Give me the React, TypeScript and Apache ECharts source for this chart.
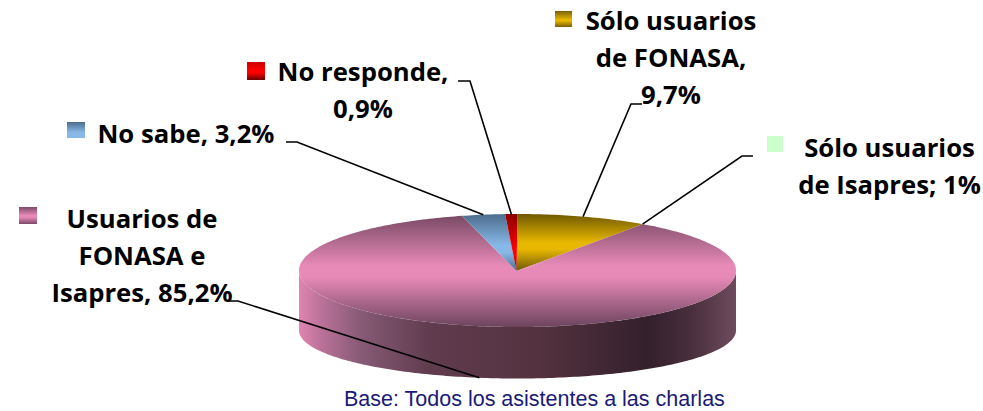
import React, { useEffect, useRef } from "react";
import * as echarts from "echarts";

const sliceNames = ["Sólo usuarios de FONASA", "Sólo usuarios de Isapres", "Usuarios de FONASA e Isapres", "No sabe", "No responde"];
const sliceValues = [9.7, 1, 85.2, 3.2, 0.9];
const labelTexts = [
  "Sólo usuarios\nde FONASA,\n9,7%",
  "Sólo usuarios\nde Isapres; 1%",
  "Usuarios de\nFONASA e\nIsapres, 85,2%",
  "No sabe, 3,2%",
  "No responde,\n0,9%",
];
const footnote = "Base: Todos los asistentes a las charlas";

// Pie geometry
const CX = 517.5, CY = 270.5, RX = 218.5, RY = 56.5;
const BOTTOM_CY = 330.5, BOTTOM_RY = 48;
const rad = (d: number) => (d * Math.PI) / 180;
const topPt = (a: number): number[] => [CX + RX * Math.sin(rad(a)), CY - RY * Math.cos(rad(a))];
const botPt = (a: number): number[] => [CX + RX * Math.sin(rad(a)), BOTTOM_CY - BOTTOM_RY * Math.cos(rad(a))];

const ranges: number[][] = [];
{
  let acc = 0;
  for (const v of sliceValues) {
    ranges.push([acc * 3.6, (acc + v) * 3.6]);
    acc += v;
  }
}

const v3 = (a: string, b: string, c: string, stops?: number[]) => ({
  type: "linear", x: 0, y: 0, x2: 0, y2: 1,
  colorStops: [
    { offset: 0, color: a },
    { offset: stops ? stops[0] : 0.5, color: b },
    { offset: stops ? stops[1] : 0.5, color: b },
    { offset: 1, color: c },
  ],
});
const glob = (g: any, y0: number, y1: number) => ({ ...g, global: true, x: 0, x2: 0, y: y0, y2: y1 });

const pinkFace = v3("#764862", "#e88ab8", "#6c445e", [0.46, 0.56]);
const goldFace = v3("#6f5800", "#e8b800", "#6f5800", [0.5, 0.62]);
const blueFace = v3("#4c6c8c", "#88b8e8", "#4c6c8c", [0.55, 0.68]);
const redFace = v3("#8a0000", "#ff0000", "#8a0000", [0.6, 0.7]);

// The Isapres slice is painted like its neighbour in the reference: no green wedge shows there.
const faceFills = [
  glob(goldFace, 214, 271),
  glob(pinkFace, 214, 327),
  glob(pinkFace, 214, 327),
  glob(blueFace, 214, 271),
  glob(redFace, 214, 271),
];
const sideFill = {
  type: "linear", x: 299, y: 0, x2: 736, y2: 0, global: true,
  colorStops: [
    { offset: 0, color: "#e085b2" },
    { offset: 0.05, color: "#bb729a" },
    { offset: 0.14, color: "#875a76" },
    { offset: 0.3, color: "#603c4e" },
    { offset: 0.55, color: "#54323f" },
    { offset: 0.8, color: "#33202c" },
    { offset: 0.9, color: "#4a2f3d" },
    { offset: 1, color: "#6e4c5e" },
  ],
};
const keyFills: any[] = [
  v3("#7a6000", "#e8b800", "#7a6000", [0.55, 0.6]),
  "#ccffcc",
  v3("#7c4a66", "#e88ab8", "#7c4a66", [0.5, 0.6]),
  v3("#4c6c8c", "#88b8e8", "#88b8e8", [0.65, 0.8]),
  v3("#c80000", "#ff0000", "#6a0000", [0.45, 0.6]),
];

// Annotation layout, in the same order as the slices
const labelCenters = [[671, 57.5], [889.5, 165.5], [142, 255.5], [186, 133], [363, 90]];
const keyBoxes = [[555, 11, 17, 16], [767, 136, 16, 16], [19, 207, 18, 17], [67, 122, 18, 16], [247, 62, 18, 18]];
const leaderStarts = [[642, 104, 631, 104], [753, 156, 742, 156], [227, 301, 238, 301], [286, 142, 297, 142], [458, 81, 470, 81]];
const leaderFractions = [0.5, 0, 0.494, 0.5, 0.5];

const arc = (pt: (a: number) => number[], a0: number, a1: number) => {
  const out: number[][] = [];
  const n = Math.max(2, Math.ceil(Math.abs(a1 - a0)));
  for (let i = 0; i <= n; i++) out.push(pt(a0 + ((a1 - a0) * i) / n));
  return out;
};

const renderPie = (params: any) => {
  const i = params.dataIndex;
  let [a0, a1] = ranges[i];
  const children: any[] = [];
  const s0 = Math.max(a0, 90), s1 = Math.min(a1, 270);
  if (s1 > s0) {
    children.push({
      type: "polygon",
      shape: { points: [...arc(topPt, s0, s1), ...arc(botPt, s1, s0)] },
      style: { fill: sideFill },
    });
  }
  // Isapres runs a little under the next slice so that no seam shows.
  if (i === 1) a1 += 1;
  children.push({
    type: "polygon",
    shape: { points: [[CX - 1, CY + 0.5], ...arc(topPt, a0, a1)] },
    style: { fill: faceFills[i] },
  });
  return { type: "group", children };
};

const renderNotes = (params: any) => {
  const i = params.dataIndex;
  const [a0, a1] = ranges[i];
  const a = a0 + (a1 - a0) * leaderFractions[i];
  const front = a > 90 && a < 270;
  const end = front ? botPt(a) : topPt(a);
  const ls = leaderStarts[i];
  const kb = keyBoxes[i];
  const lc = labelCenters[i];
  return {
    type: "group",
    children: [
      {
        type: "polyline",
        shape: { points: [[ls[0], ls[1]], [ls[2], ls[3]], end] },
        style: { stroke: "#000000", lineWidth: 1.6, fill: "none" },
      },
      { type: "rect", shape: { x: kb[0], y: kb[1], width: kb[2], height: kb[3] }, style: { fill: keyFills[i] } },
      {
        type: "text",
        style: {
          text: labelTexts[i], x: lc[0], y: lc[1], align: "center", verticalAlign: "middle",
          font: "bold 25.7px 'Open Sans', sans-serif", lineHeight: 37, fill: "#000000",
        },
      },
    ],
  };
};

export default function App() {
  const ref = useRef<HTMLDivElement>(null);
  useEffect(() => {
    document.body.style.margin = "0";
    const chart = echarts.init(ref.current!, undefined, { renderer: "svg" });
    const data = sliceValues.map((value, i) => ({ name: sliceNames[i], value }));
    chart.setOption({
      animation: false,
      backgroundColor: "#ffffff",
      title: {
        text: footnote,
        left: 344, top: 388,
        padding: 0,
        textStyle: { fontFamily: "Liberation Sans, Arial, sans-serif", fontSize: 21.5, fontWeight: "normal", color: "#1a1a7a" },
      },
      series: [
        { type: "custom", coordinateSystem: "none", z: 2, renderItem: renderPie, data, silent: true },
        { type: "custom", coordinateSystem: "none", z: 3, renderItem: renderNotes, data, silent: true },
      ],
    });
    return () => chart.dispose();
  }, []);
  return <div ref={ref} style={{ width: 983, height: 411 }} />;
}
